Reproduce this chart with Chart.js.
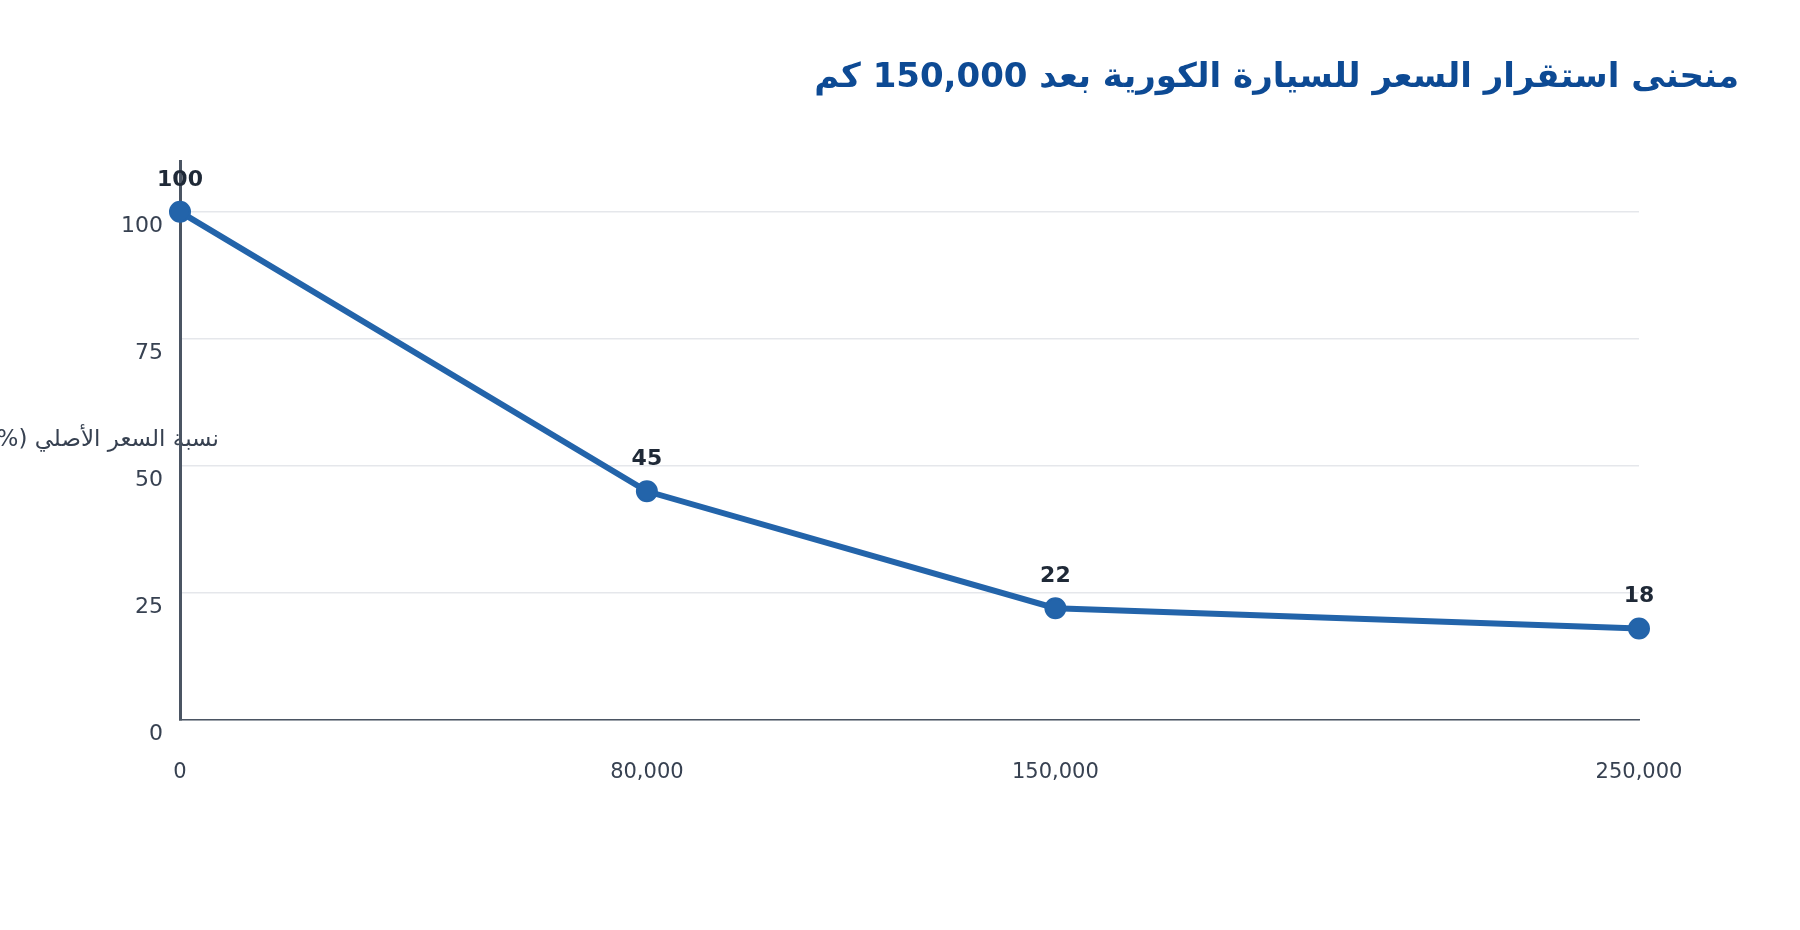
<!DOCTYPE html>
<html>
<head>
<meta charset="utf-8">
<script src="https://cdn.jsdelivr.net/npm/chart.js@4.4.1/dist/chart.umd.min.js"></script>
<style>
  html, body { margin: 0; padding: 0; background: #ffffff; }
  #wrap { width: 1800px; height: 930px; position: relative; }
</style>
</head>
<body>
<div id="wrap"><canvas id="c"></canvas></div>
<script>
const chartTitle = "منحنى استقرار السعر للسيارة الكورية بعد 150,000 كم";
const yAxisTitle = "نسبة السعر الأصلي (%)";
const mileage = [0, 80000, 150000, 250000];
const pricePercent = [100, 45, 22, 18];
const yTickValues = [0, 25, 50, 75, 100];
const yMin = 0;
const yMax = 110;

const FONT = "'DejaVu Sans', 'Noto Sans', sans-serif";
const LINE_COLOR = "#2364aa";

const points = mileage.map((m, i) => ({ x: m, y: pricePercent[i] }));

const overlayPlugin = {
  id: 'overlay',
  beforeDraw(chart) {
    const ctx = chart.ctx;
    ctx.save();
    ctx.direction = "rtl";
    ctx.textAlign = "right";
    ctx.font = "23px " + FONT;
    ctx.fillStyle = "#374151";
    ctx.textBaseline = "middle";
    ctx.fillText(yAxisTitle, 219, 440);
    ctx.restore();
  },
  afterDatasetsDraw(chart) {
    const ctx = chart.ctx;
    const meta = chart.getDatasetMeta(0);
    ctx.save();
    ctx.font = "bold 22px " + FONT;
    ctx.fillStyle = "#1f2937";
    ctx.textAlign = "center";
    ctx.textBaseline = "middle";
    meta.data.forEach((pt, i) => {
      ctx.fillText(String(pricePercent[i]), pt.x, pt.y - 32);
    });
    ctx.restore();
  },
  afterDraw(chart) {
    const ctx = chart.ctx;
    ctx.save();
    ctx.direction = "rtl";
    ctx.textAlign = "right";
    ctx.textBaseline = "alphabetic";
    ctx.font = "bold 34px " + FONT;
    ctx.fillStyle = "#0d4a94";
    ctx.fillText(chartTitle, 1739, 87);
    ctx.restore();
  }
};

new Chart(document.getElementById('c'), {
  type: 'line',
  data: {
    datasets: [{
      data: points,
      borderColor: LINE_COLOR,
      backgroundColor: LINE_COLOR,
      borderWidth: 6,
      pointRadius: 10,
      pointBorderWidth: 2,
      pointBackgroundColor: LINE_COLOR,
      pointBorderColor: LINE_COLOR,
      tension: 0,
      fill: false,
      clip: false
    }]
  },
  options: {
    responsive: true,
    maintainAspectRatio: false,
    devicePixelRatio: 1,
    animation: false,
    layout: { padding: { top: 161, right: 161, bottom: 0, left: 0 } },
    plugins: {
      legend: { display: false },
      title: { display: false },
      tooltip: { enabled: false }
    },
    scales: {
      x: {
        type: 'linear',
        min: mileage[0],
        max: mileage[mileage.length - 1],
        afterBuildTicks(scale) {
          scale.ticks = mileage.map(v => ({ value: v }));
        },
        afterFit(scale) { scale.height = 210; },
        grid: { display: false, drawTicks: false },
        border: { display: true, color: '#4b5563', width: 1.5 },
        ticks: {
          padding: 40,
          color: '#374151',
          font: { family: FONT, size: 21 },
          maxRotation: 0,
          autoSkip: false,
          callback: v => v.toLocaleString('en-US')
        }
      },
      y: {
        type: 'linear',
        min: yMin,
        max: yMax,
        afterBuildTicks(scale) {
          scale.ticks = yTickValues.map(v => ({ value: v }));
        },
        afterFit(scale) { scale.width = 180; },
        grid: { color: '#e5e7eb', lineWidth: 1.5, drawTicks: false },
        border: { display: true, color: '#4b5563', width: 3 },
        ticks: {
          padding: 17,
          labelOffset: 14,
          color: '#374151',
          font: { family: FONT, size: 22 }
        }
      }
    }
  },
  plugins: [overlayPlugin]
});
</script>
</body>
</html>
